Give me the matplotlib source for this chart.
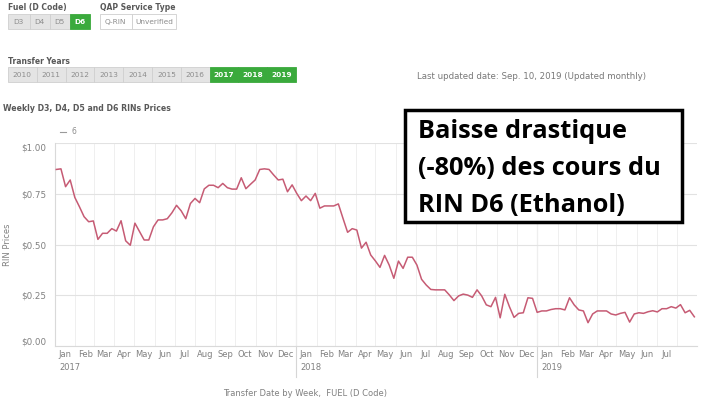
import matplotlib
matplotlib.use("Agg")
import matplotlib.pyplot as plt
import matplotlib.dates as mdates
from matplotlib.patches import Rectangle
import pandas as pd

# weekly D6 RIN prices, first week of Jan 2017 -> end of Aug 2019
start_week = "2017-01-03"
d6_prices = [
    0.871, 0.874, 0.786, 0.819, 0.733, 0.687, 0.638, 0.613, 0.617, 0.526,
    0.556, 0.556, 0.579, 0.567, 0.618, 0.519, 0.497, 0.606, 0.564, 0.523,
    0.523, 0.588, 0.622, 0.622, 0.628, 0.657, 0.694, 0.667, 0.628, 0.703,
    0.728, 0.707, 0.775, 0.793, 0.793, 0.781, 0.802, 0.781, 0.774, 0.774,
    0.830, 0.776, 0.798, 0.819, 0.871, 0.874, 0.871, 0.844, 0.819, 0.823,
    0.761, 0.795, 0.753, 0.717, 0.740, 0.717, 0.753, 0.680, 0.691, 0.691,
    0.691, 0.701, 0.630, 0.561, 0.579, 0.572, 0.483, 0.512, 0.449, 0.420,
    0.388, 0.447, 0.399, 0.334, 0.419, 0.383, 0.438, 0.438, 0.399, 0.329,
    0.301, 0.279, 0.277, 0.277, 0.277, 0.252, 0.224, 0.247, 0.256, 0.251,
    0.240, 0.277, 0.247, 0.203, 0.194, 0.240, 0.139, 0.255, 0.194, 0.141,
    0.161, 0.164, 0.238, 0.235, 0.166, 0.173, 0.173, 0.180, 0.184, 0.184,
    0.178, 0.238, 0.203, 0.178, 0.173, 0.115, 0.158, 0.173, 0.173, 0.173,
    0.158, 0.153, 0.161, 0.166, 0.118, 0.158, 0.164, 0.161, 0.169, 0.174,
    0.168, 0.184, 0.184, 0.194, 0.187, 0.204, 0.164, 0.176, 0.144,
]
weeks = pd.date_range(start_week, periods=len(d6_prices), freq="7D")

fuel_codes = ["D3", "D4", "D5", "D6"]
selected_fuel = "D6"
service_types = ["Q-RIN", "Unverified"]
transfer_years = [str(y) for y in range(2010, 2020)]
selected_years = ["2017", "2018", "2019"]
y_ticks = [0.0, 0.25, 0.50, 0.75, 1.00]
chart_years = [2017, 2018, 2019]
note_lines = ["Baisse drastique", "(-80%) des cours du", "RIN D6 (Ethanol)"]

W, H = 701, 399
LINE = "#c65b74"
GREEN = "#3aaa3c"
GREY_TXT = "#595959"

fig = plt.figure(figsize=(W / 100, H / 100), dpi=100)
fig.patch.set_facecolor("white")

# ---- chart
ax = fig.add_axes([55 / W, 1 - 346 / H, (697 - 55) / W, (346 - 143.3) / H])
ax.plot(weeks, d6_prices, color=LINE, lw=1.1, zorder=3)
ax.set_xlim(pd.Timestamp("2017-01-01"), pd.Timestamp("2019-08-31"))
ax.set_ylim(0, 1.0)

ax.set_yticks(y_ticks)
ax.set_yticklabels(["$%.2f" % v for v in y_ticks])
lbls = ax.get_yticklabels()
lbls[0].set_va("bottom")
lbls[-1].set_va("top")
ax.tick_params(axis="y", length=0, pad=6, labelsize=6.3, labelcolor="#808080")
ax.grid(axis="y", color="#e2e2e2", lw=0.8)

ax.xaxis.set_major_locator(mdates.MonthLocator())
ax.xaxis.set_major_formatter(plt.NullFormatter())
mid_months = pd.date_range("2017-01-01", "2019-07-01", freq="MS") + pd.Timedelta(days=15)
ax.set_xticks(mid_months, minor=True)
ax.set_xticklabels([d.strftime("%b") for d in mid_months], minor=True)
ax.tick_params(axis="x", which="both", length=0)
ax.tick_params(axis="x", which="minor", pad=3, labelsize=6.0, labelcolor="#808080")
ax.grid(axis="x", which="major", color="#efefef", lw=0.7)

for s in ["top", "right"]:
    ax.spines[s].set_visible(False)
for s in ["left", "bottom"]:
    ax.spines[s].set_color("#d9d9d9")
    ax.spines[s].set_linewidth(0.8)

xt = ax.get_xaxis_transform()
for yr in chart_years:
    d = mdates.date2num(pd.Timestamp(f"{yr}-01-01"))
    if yr != chart_years[0]:
        ax.plot([d, d], [1.0, -0.155], transform=xt, color="#d6d6d6", lw=0.8,
                clip_on=False, zorder=1)
    ax.annotate(str(yr), xy=(d, -0.108), xycoords=xt, xytext=(3, 0),
                textcoords="offset points", ha="left", va="center",
                fontsize=6.0, color="#808080")

ax.set_ylabel("RIN Prices", fontsize=6.0, color="#808080")
ax.yaxis.set_label_coords(-0.067, 0.5)
ax.set_xlabel("Transfer Date by Week,  FUEL (D Code)", fontsize=6.0,
              color="#808080")
ax.xaxis.set_label_coords(0.39, -0.21)

# ---- overlay in pixel coordinates (filters, titles, annotation)
ui = fig.add_axes([0, 0, 1, 1], zorder=5)
ui.set_xlim(0, W)
ui.set_ylim(H, 0)
ui.axis("off")
ui.patch.set_alpha(0)


def button(x0, x1, y0, y1, label, on=False, white=False):
    fc = GREEN if on else ("white" if white else "#e4e4e4")
    ui.add_patch(Rectangle((x0, y0), x1 - x0, y1 - y0, facecolor=fc,
                           edgecolor="#cfcfcf" if not on else GREEN, lw=0.6))
    ui.text((x0 + x1) / 2, (y0 + y1) / 2 + 0.5, label, ha="center", va="center",
            fontsize=5.3, color="white" if on else "#8c8c8c",
            fontweight="bold" if on else "normal")


ui.text(8, 7.5, "Fuel (D Code)", fontsize=5.5, fontweight="bold",
        color=GREY_TXT, va="center")
fx = [8, 29.5, 49.5, 69.5, 89.5]
for i, code in enumerate(fuel_codes):
    button(fx[i], fx[i + 1], 14, 29, code, on=(code == selected_fuel))

ui.text(100, 7.5, "QAP Service Type", fontsize=5.5, fontweight="bold",
        color=GREY_TXT, va="center")
sx = [99.5, 131.7, 176]
for i, st in enumerate(service_types):
    button(sx[i], sx[i + 1], 14, 29, st, white=True)

ui.text(8, 61, "Transfer Years", fontsize=5.5, fontweight="bold",
        color=GREY_TXT, va="center")
yw = (296 - 8) / len(transfer_years)
for i, yr in enumerate(transfer_years):
    button(8 + i * yw, 8 + (i + 1) * yw, 66.7, 81.7, yr, on=(yr in selected_years))

ui.text(417, 76.5, "Last updated date: Sep. 10, 2019 (Updated monthly)",
        fontsize=6.2, color="#777777", va="center")

ui.text(3, 108.5, "Weekly D3, D4, D5 and D6 RINs Prices", fontsize=5.6,
        fontweight="bold", color=GREY_TXT, va="center")

ui.plot([60, 66], [131.5, 131.5], color="#9a9a9a", lw=0.8)
ui.text(71, 131.5, "6", fontsize=5.5, color="#8c8c8c", va="center")

ui.add_patch(Rectangle((405, 110), 682 - 405, 222 - 110, facecolor="white",
                       edgecolor="black", lw=2.5))
for i, line in enumerate(note_lines):
    ui.text(418, 137.8 + i * 37.3, line, fontsize=18.3, fontweight="bold",
            family="Open Sans", color="black", va="baseline")

fig.savefig("out.png", dpi=100)
